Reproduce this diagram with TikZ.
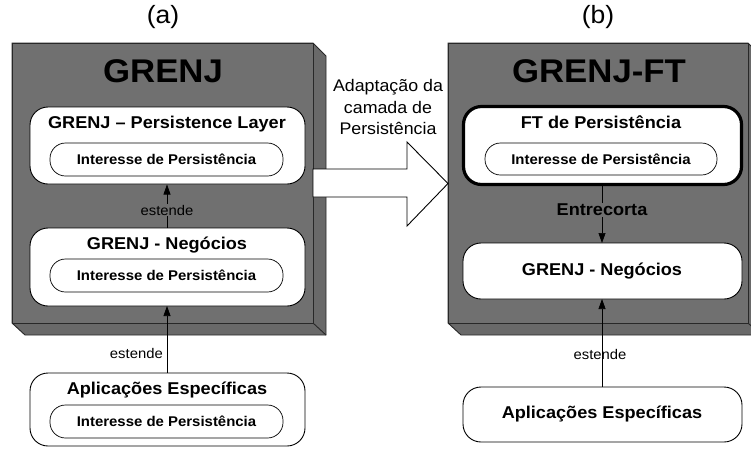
\documentclass[tikz,border=0pt]{standalone}
\usepackage{fontspec}
\setmainfont[FakeStretch=1.06]{Liberation Sans}
\usetikzlibrary{arrows.meta}
\definecolor{boxgray}{RGB}{112,112,112}
\definecolor{edgegray}{RGB}{40,40,40}
\tikzset{
  front/.style={fill=boxgray,draw=edgegray,line width=0.9pt},
  side/.style={fill=boxgray!94!black,draw=edgegray,line width=0.9pt},
  layer/.style={draw=black,fill=white,rounded corners=18pt,line width=0.9pt,inner sep=0pt},
  thicklayer/.style={layer,line width=3.2pt},
  pill/.style={draw=black,fill=white,rounded corners=15.5pt,line width=0.7pt,minimum width=233pt,minimum height=33pt,inner sep=0pt,font=\fontsize{14.1}{16}\selectfont\bfseries},
  ltitle/.style={font=\fontsize{17.1}{19}\selectfont\bfseries,inner sep=0pt},
  bigtitle/.style={font=\fontsize{32.8}{36}\selectfont\bfseries,inner sep=0pt},
  capt/.style={font=\fontsize{25}{28}\selectfont,inner sep=0pt},
  lbl/.style={font=\fontsize{14}{16}\selectfont,inner sep=0pt},
  conn/.style={line width=0.7pt,-{Triangle[length=10pt,width=7pt]}},
}
\begin{document}
\begin{tikzpicture}[x=1pt,y=-1pt]
\useasboundingbox (0,0) rectangle (751,448);
\clip (0,0) rectangle (751,448);
% ---------- box (a)
\draw[side] (12,43) -- (313,43) -- (326,56) -- (326,335) -- (25,335) -- (12,323) -- cycle;
\draw[front] (12,43) rectangle (313,323);
\draw[edgegray,line width=0.9pt] (313,323) -- (326,335);
% ---------- box (b)
\draw[side] (448,43) -- (748,43) -- (761,56) -- (761,335) -- (461,335) -- (448,323) -- cycle;
\draw[front] (448,43) rectangle (748,323);
\draw[edgegray,line width=0.9pt] (748,323) -- (761,335);
% captions
\node[capt] (capa) at (163,17) {(a)};
\node[capt] (capb) at (598,17) {(b)};
\node[bigtitle] (grenj) at (163,71) {GRENJ};
\node[bigtitle] (grenjft) at (599,71) {GRENJ-FT};
% ---------- (a) layers
\node[layer,minimum width=275pt,minimum height=77pt] (pl) at (167.5,145.5) {};
\node[ltitle] (plt) at (167,124) {GRENJ – Persistence Layer};
\node[pill] (plp) at (166.5,159.5) {Interesse de Persistência};
\node[layer,minimum width=275pt,minimum height=78pt] (neg) at (167.5,267) {};
\node[ltitle] (negt) at (167,245) {GRENJ - Negócios};
\node[pill] (negp) at (166.5,275.5) {Interesse de Persistência};
\node[layer,minimum width=275pt,minimum height=73pt] (app) at (167.5,409.5) {};
\node[ltitle] (appt) at (167,390) {Aplicações Específicas};
\node[pill] (appp) at (166.5,421.5) {Interesse de Persistência};
\coordinate (negtop) at (167,228);
\coordinate (plbot) at (167,184.5);
\draw[conn] (negtop) -- (plbot);
\node[lbl,fill=boxgray,inner ysep=1pt] (est1) at (167,210) {estende};
\coordinate (apptop) at (167,373);
\coordinate (negbot) at (167,306);
\draw[conn] (apptop) -- (negbot);
\node[lbl,anchor=east] (est2) at (163,353) {estende};
% ---------- big arrow
\draw[fill=white,draw=black,line width=0.9pt] (313,169) -- (407,169) -- (407,142) -- (448,183.5) -- (407,226) -- (407,197) -- (313,197) -- cycle;
\node[font=\fontsize{16.8}{21.5}\selectfont,align=center,inner sep=0pt] (adapt) at (388,107) {Adaptação da\\camada de\\Persistência};
% ---------- (b) layers
\node[thicklayer,minimum width=278pt,minimum height=78pt] (ft) at (602.5,145.5) {};
\node[ltitle] (ftt) at (601,122) {FT de Persistência};
\node[pill,minimum width=232pt,minimum height=32pt] (ftp) at (601,159) {Interesse de Persistência};
\node[layer,minimum width=279pt,minimum height=56pt] (negb) at (602.5,271) {};
\node[ltitle] (negbt) at (602,271) {GRENJ - Negócios};
\node[layer,minimum width=279pt,minimum height=55pt] (appb) at (602.5,414.5) {};
\node[ltitle] (appbt) at (602,414) {Aplicações Específicas};
\coordinate (ftbot) at (602,186);
\coordinate (negbtop) at (602,243);
\draw[conn] (ftbot) -- (negbtop);
\node[ltitle,fill=boxgray,inner ysep=1pt] (entre) at (602,210) {Entrecorta};
\coordinate (appbtop) at (602,387);
\coordinate (negbbot) at (602,299);
\node[lbl] (est3) at (600,354) {estende};
\draw[conn] (appbtop) -- (negbbot);
\end{tikzpicture}
\end{document}
